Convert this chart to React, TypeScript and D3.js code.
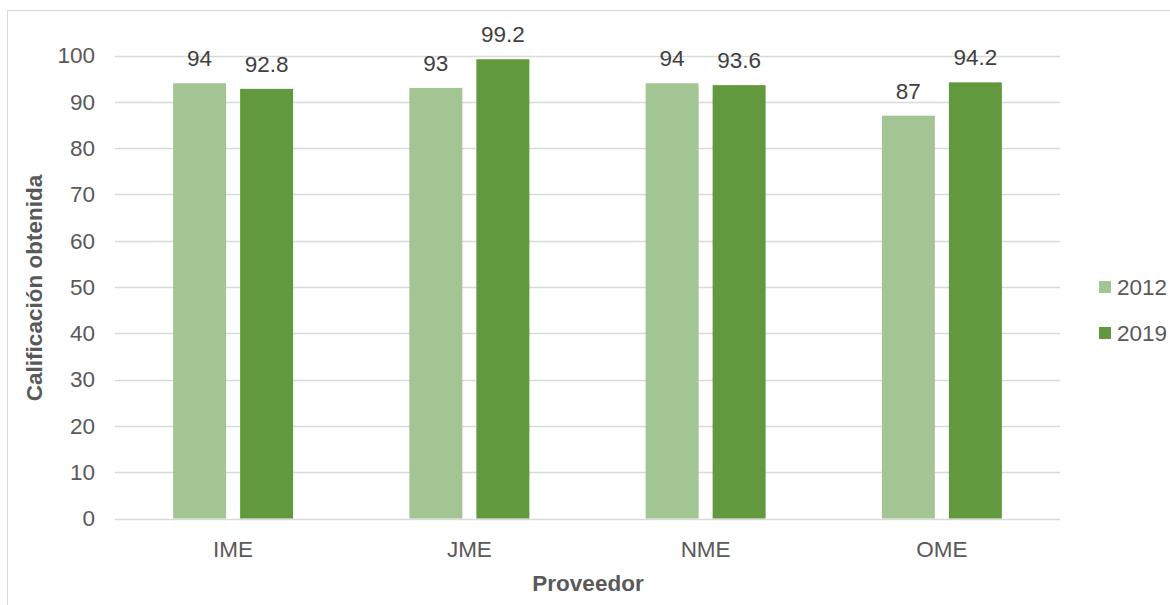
import React from "react";
import * as d3 from "d3";

const categories = ["IME", "JME", "NME", "OME"];
const series = ["2012", "2019"];
const values2012 = [94, 93, 94, 87];
const values2019 = [92.8, 99.2, 93.6, 94.2];
const yTicks = [0, 10, 20, 30, 40, 50, 60, 70, 80, 90, 100];
const colors = ["#a3c594", "#62993e"];

export default function App() {
  const W = 1170;
  const H = 605;
  const left = 115;
  const right = 1060;
  const top = 55.5;
  const bottom = 518.5;

  const x = d3.scaleBand<string>().domain(categories).range([left, right]).paddingInner(0).paddingOuter(0);
  const y = d3.scaleLinear().domain([0, 100]).range([bottom, top]);
  const barW = 53;
  const gap = 14;
  const font = "Arial, 'Liberation Sans', sans-serif";
  const textColor = "#595959";
  const fs = 22.5;
  const data = [values2012, values2019];

  return (
    <svg width={W} height={H} style={{ position: "absolute", left: 0, top: 0, background: "#fff" }} fontFamily={font}>
      <rect x={7.5} y={10.5} width={W} height={H} fill="#fff" stroke="#d9d9d9" strokeWidth={1} />
      {yTicks.map((t) => (
        <g key={t}>
          <line x1={left} x2={right} y1={Math.round(y(t)) + 0.5} y2={Math.round(y(t)) + 0.5} stroke="#d9d9d9" strokeWidth={1.3} />
          <text x={95} y={y(t)} dy="0.35em" textAnchor="end" fontSize={fs} fill={textColor}>
            {t}
          </text>
        </g>
      ))}
      {categories.map((c, i) => {
        const cx = (x(c) as number) + x.bandwidth() / 2;
        return (
          <g key={c}>
            {series.map((s, k) => {
              const v = data[k][i];
              const bx = k === 0 ? cx - gap / 2 - barW : cx + gap / 2;
              return (
                <g key={s}>
                  <rect x={bx} y={y(v)} width={barW} height={bottom - y(v)} fill={colors[k]} />
                  <text x={bx + barW / 2} y={y(v) - 17} textAnchor="middle" fontSize={fs} fill="#404040">
                    {v}
                  </text>
                </g>
              );
            })}
            <text x={cx} y={549} dy="0.35em" textAnchor="middle" fontSize={fs} fill={textColor}>
              {c}
            </text>
          </g>
        );
      })}
      <text x={588} y={583} dy="0.35em" textAnchor="middle" fontSize={fs} fontWeight="bold" fill={textColor}>
        Proveedor
      </text>
      <text
        transform={`translate(34,288) rotate(-90)`}
        dy="0.35em"
        textAnchor="middle"
        fontSize={fs}
        fontWeight="bold"
        fill={textColor}
      >
        Calificación obtenida
      </text>
      {series.map((s, k) => (
        <g key={s} transform={`translate(1099,${287 + k * 46})`}>
          <rect x={0} y={-6} width={12} height={12} fill={colors[k]} />
          <text x={18} y={0} dy="0.35em" fontSize={fs} fill={textColor}>
            {s}
          </text>
        </g>
      ))}
    </svg>
  );
}
